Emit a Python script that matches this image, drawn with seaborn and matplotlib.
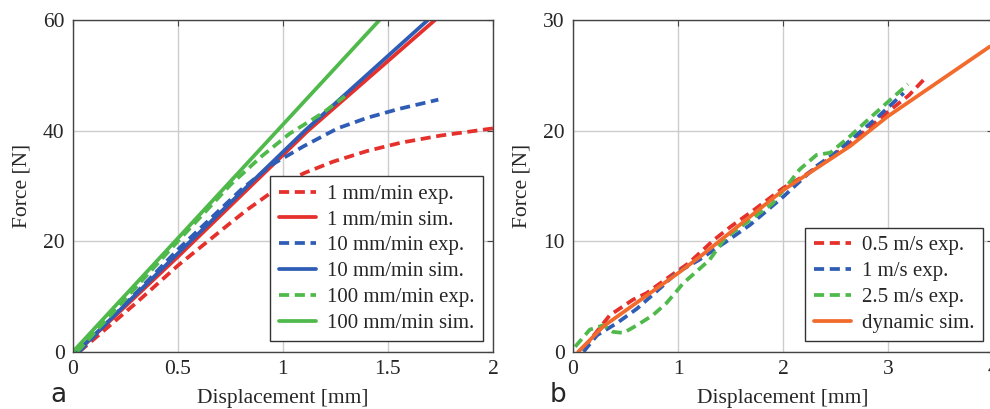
import numpy as np
import pandas as pd
import matplotlib
matplotlib.use("Agg")
import matplotlib.pyplot as plt
import seaborn as sns

# panel a: quasi-static tests (displacement mm, force N)
x_1exp = [0.03, 0.3, 0.5, 0.75, 0.83, 1.0, 1.1, 1.24, 1.4, 1.56, 1.75, 2.0]
y_1exp = [0.0, 8.8, 15.6, 23.3, 25.7, 30.3, 32.3, 34.4, 36.3, 37.8, 39.1, 40.4]
x_1sim = [0.02, 0.5, 1.12, 1.724]
y_1sim = [0.0, 17.2, 40.0, 60.0]
x_10exp = [0.03, 0.5, 0.8, 0.95, 1.1, 1.26, 1.4, 1.55, 1.74]
y_10exp = [0.0, 18.5, 29.3, 33.9, 37.2, 40.4, 42.3, 43.9, 45.6]
x_10sim = [0.02, 0.5, 1.105, 1.69]
y_10sim = [0.0, 17.8, 40.0, 60.0]
x_100exp = [0.02, 0.5, 0.75, 0.9, 1.03, 1.19, 1.295]
y_100exp = [0.0, 20.0, 30.2, 35.4, 39.4, 43.2, 46.2]
x_100sim = [0.0, 1.46]
y_100sim = [0.0, 60.0]

# panel b: dynamic tests
x_05 = [0.1, 0.35, 0.57, 0.7, 0.92, 1.1, 1.34, 1.5, 1.72, 2.0, 2.2, 2.4, 2.6, 2.8, 3.0, 3.2, 3.36]
y_05 = [0.3, 3.3, 4.7, 5.3, 6.8, 8.0, 10.1, 11.3, 12.8, 14.8, 15.9, 17.2, 18.6, 20.1, 21.7, 23.2, 24.8]
x_1ms = [0.1, 0.23, 0.42, 0.61, 0.86, 0.98, 1.2, 1.45, 1.69, 2.0, 2.32, 2.5, 2.7, 2.9, 3.15]
y_1ms = [0.0, 1.5, 2.6, 3.9, 6.0, 7.1, 8.3, 9.9, 11.5, 14.0, 16.8, 18.0, 19.6, 21.2, 23.4]
x_25 = [0.02, 0.16, 0.29, 0.38, 0.48, 0.61, 0.76, 0.89, 0.98, 1.05, 1.3, 1.45, 1.7, 1.9, 2.07, 2.16,
        2.32, 2.45, 2.64, 2.8, 3.0, 3.19]
y_25 = [0.45, 2.0, 2.4, 1.8, 1.7, 2.4, 3.3, 4.4, 5.4, 6.2, 8.3, 10.3, 12.0, 13.4, 15.4, 16.5,
        17.8, 18.0, 19.5, 20.9, 22.6, 24.2]
x_dyn = [0.05, 0.29, 1.0, 1.21, 2.0, 2.64, 3.0, 3.97]
y_dyn = [0.0, 2.3, 7.1, 8.6, 14.6, 18.6, 21.3, 27.6]

red = "#e5302c"
blue = "#2f5db5"
green = "#4fba4b"
orange = "#f26a2c"
dash = (0, (2.7, 1.5))

sns.set_style("whitegrid")
plt.rcParams["font.family"] = ["Liberation Serif", "DejaVu Serif"]
plt.rcParams["font.size"] = 15

fig = plt.figure(figsize=(9.9, 4.09), dpi=100)
ax1 = fig.add_axes([0.0737, 0.140, 0.4242, 0.811])
ax2 = fig.add_axes([0.5788, 0.140, 0.4242, 0.811])

lw = 2.7
series_a = [
    (x_1exp, y_1exp, red, dash, "1 mm/min exp."),
    (x_1sim, y_1sim, red, "-", "1 mm/min sim."),
    (x_10exp, y_10exp, blue, dash, "10 mm/min exp."),
    (x_10sim, y_10sim, blue, "-", "10 mm/min sim."),
    (x_100exp, y_100exp, green, dash, "100 mm/min exp."),
    (x_100sim, y_100sim, green, "-", "100 mm/min sim."),
]
for xs, ys, c, ls, lab in series_a:
    sns.lineplot(x=xs, y=ys, ax=ax1, color=c, linestyle=ls, lw=lw, label=lab)

series_b = [
    (x_05, y_05, red, dash, "0.5 m/s exp."),
    (x_1ms, y_1ms, blue, dash, "1 m/s exp."),
    (x_25, y_25, green, dash, "2.5 m/s exp."),
    (x_dyn, y_dyn, orange, "-", "dynamic sim."),
]
for xs, ys, c, ls, lab in series_b:
    sns.lineplot(x=xs, y=ys, ax=ax2, color=c, linestyle=ls, lw=lw, label=lab)

ax1.set_xlim(0, 2)
ax1.set_ylim(0, 60)
ax1.set_xticks([0, 0.5, 1, 1.5, 2])
ax1.set_xticklabels(["0", "0.5", "1", "1.5", "2"])
ax1.set_yticks([0, 20, 40, 60])
ax2.set_xlim(0, 4)
ax2.set_ylim(0, 30)
ax2.set_xticks([0, 1, 2, 3, 4])
ax2.set_yticks([0, 10, 20, 30])

for ax in (ax1, ax2):
    ax.set_xlabel("Displacement [mm]", fontsize=15.5, labelpad=7)
    ax.set_ylabel("Force [N]", fontsize=15.5, labelpad=8)
    ax.grid(True, color="#cccccc", lw=1.0)
    for s in ax.spines.values():
        s.set_color("#444444")
        s.set_linewidth(1.0)
    ax.tick_params(direction="in", length=4, width=0.8, color="#444444",
                   top=True, right=True, labelsize=15.5, pad=6)
    leg = ax.legend(loc="lower right", fontsize=15, frameon=True, fancybox=False,
                    edgecolor="#333333", framealpha=1, handlelength=1.8,
                    labelspacing=0.3, borderaxespad=0.5, borderpad=0.4,
                    handletextpad=0.5)
    leg.get_frame().set_linewidth(1.0)

fig.text(50 / 990, 0.017, "a", fontsize=19, family="DejaVu Sans", va="baseline")
fig.text(550 / 990, 0.017, "b", fontsize=19, family="DejaVu Sans", va="baseline")

fig.savefig("out.png", dpi=100)
